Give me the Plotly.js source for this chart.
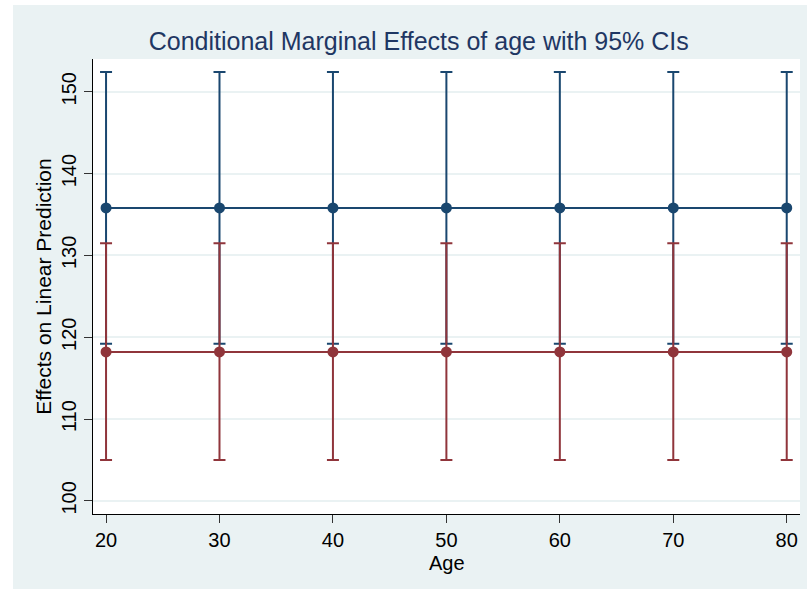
<!DOCTYPE html>
<html>
<head>
<meta charset="utf-8">
<script src="https://cdn.plot.ly/plotly-3.0.1.min.js"></script>
<style>
html,body{margin:0;padding:0;background:#ffffff;}
#chart{position:absolute;left:13px;top:5px;width:794px;height:584px;}
</style>
</head>
<body>
<div id="chart"></div>
<script>
const ages = [20, 30, 40, 50, 60, 70, 80];
const blueEst = [135.8, 135.8, 135.8, 135.8, 135.8, 135.8, 135.8];
const blueLow = [119.2, 119.2, 119.2, 119.2, 119.2, 119.2, 119.2];
const blueHigh = [152.4, 152.4, 152.4, 152.4, 152.4, 152.4, 152.4];
const redEst = [118.2, 118.2, 118.2, 118.2, 118.2, 118.2, 118.2];
const redLow = [105.0, 105.0, 105.0, 105.0, 105.0, 105.0, 105.0];
const redHigh = [131.5, 131.5, 131.5, 131.5, 131.5, 131.5, 131.5];
const yTicks = [100, 110, 120, 130, 140, 150];
const xTicks = [20, 30, 40, 50, 60, 70, 80];

const blue = '#1a476f';
const red = '#90353b';

function ciTrace(est, lo, hi, color) {
  return {
    x: ages, y: est, type: 'scatter', mode: 'lines+markers',
    line: {color: color, width: 2},
    marker: {color: color, size: 11, symbol: 'circle'},
    error_y: {
      type: 'data', symmetric: false,
      array: hi.map((h, i) => h - est[i]),
      arrayminus: lo.map((l, i) => est[i] - l),
      color: color, thickness: 2, width: 6
    },
    hoverinfo: 'skip', showlegend: false
  };
}

const data = [ciTrace(blueEst, blueLow, blueHigh, blue), ciTrace(redEst, redLow, redHigh, red)];

const layout = {
  width: 794, height: 584,
  paper_bgcolor: '#eaf2f3', plot_bgcolor: '#ffffff',
  margin: {l: 80, r: 7, t: 54, b: 75, pad: 0},
  font: {family: 'Liberation Sans, Arial, sans-serif', color: '#000000', size: 20},
  showlegend: false,
  title: {
    text: 'Conditional Marginal Effects of age with 95% CIs',
    font: {size: 25, color: '#1f3763', family: 'Liberation Sans, Arial, sans-serif'},
    x: 0.511, xref: 'container', xanchor: 'center',
    y: 0.938, yref: 'container', yanchor: 'middle'
  },
  annotations: [{
    text: 'Age', xref: 'paper', yref: 'paper', x: 0.5, y: -0.107,
    xanchor: 'center', yanchor: 'middle', showarrow: false,
    font: {size: 20, color: '#000000'}
  }],
  xaxis: {
    range: [18.85, 81.17], tickvals: xTicks, ticktext: xTicks.map(String),
    showgrid: false, zeroline: false,
    showline: true, linecolor: '#000000', linewidth: 1,
    ticks: 'outside', ticklen: 8, tickwidth: 1, tickcolor: '#333333',
    tickfont: {size: 20}
  },
  yaxis: {
    range: [98.4, 154], tickvals: yTicks, ticktext: yTicks.map(String),
    showgrid: true, gridcolor: '#eaf2f3', gridwidth: 2, zeroline: false,
    showline: true, linecolor: '#000000', linewidth: 1,
    ticks: 'outside', ticklen: 8, tickwidth: 1, tickcolor: '#333333',
    tickangle: -90, tickfont: {size: 20},
    title: {text: 'Effects on Linear Prediction', font: {size: 21}, standoff: 0}
  }
};

Plotly.newPlot('chart', data, layout, {displayModeBar: false, staticPlot: true});
</script>
</body>
</html>
